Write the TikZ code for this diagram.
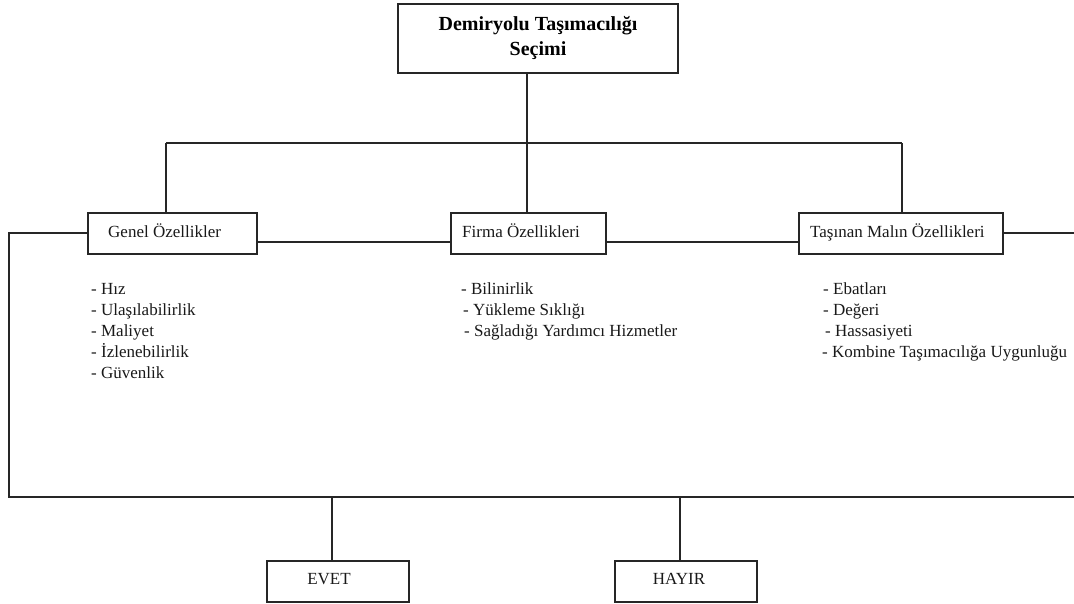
\documentclass[tikz,border=0pt]{standalone}
\usepackage{fontspec}
\setmainfont{Liberation Serif}
\begin{document}
\begin{tikzpicture}[x=1pt,y=-1pt,
  box/.style={draw=black!85,line width=1.15pt,rectangle,inner sep=0pt},
  conn/.style={draw=black!85,line width=1.15pt},
  lbl/.style={anchor=base west,inner sep=0pt,font=\fontsize{17}{21}\selectfont,text=black!90},
]
\useasboundingbox (0,0) rectangle (1074,603);
% boxes
\node[box,minimum width=280pt,minimum height=69pt,align=center,
      font=\fontsize{20}{25}\selectfont\bfseries] (top) at (538,38.5)
      {Demiryolu Taşımacılığı\\Seçimi};
\node[box,minimum width=169pt,minimum height=41pt] (genel) at (172.5,233.5) {};
\node[box,minimum width=155pt,minimum height=41pt] (firma) at (528.5,233.5) {};
\node[box,minimum width=204pt,minimum height=41pt] (tasinan) at (901,233.5) {};
\node[box,minimum width=142pt,minimum height=41pt] (evet) at (338,581.5) {};
\node[box,minimum width=142pt,minimum height=41pt] (hayir) at (686,581.5) {};
% box texts
\node[lbl] (genelt) at (108,237) {Genel Özellikler};
\node[lbl] (firmat) at (462,237) {Firma Özellikleri};
\node[lbl] (tasinant) at (810,237) {Taşınan Malın Özellikleri};
\node[lbl,anchor=base] (evett) at (329,584) {EVET};
\node[lbl,anchor=base] (hayirt) at (679,584) {HAYIR};
% lists
\node[lbl] (g1) at (91,294) {- Hız};
\node[lbl] (g2) at (91,315) {- Ulaşılabilirlik};
\node[lbl] (g3) at (91,336) {- Maliyet};
\node[lbl] (g4) at (91,357) {- İzlenebilirlik};
\node[lbl] (g5) at (91,378) {- Güvenlik};
\node[lbl] (f1) at (461,294) {- Bilinirlik};
\node[lbl] (f2) at (463,315) {- Yükleme Sıklığı};
\node[lbl] (f3) at (464,336) {- Sağladığı Yardımcı Hizmetler};
\node[lbl] (t1) at (823,294) {- Ebatları};
\node[lbl] (t2) at (823,315) {- Değeri};
\node[lbl] (t3) at (825,336) {- Hassasiyeti};
\node[lbl] (t4) at (822,357) {- Kombine Taşımacılığa Uygunluğu};
% junction coordinates
\coordinate (c1) at (166,143);
\coordinate (c2) at (527,143);
\coordinate (c3) at (902,143);
\coordinate (gm) at (0,242);
\coordinate (lt) at (9,233);
\coordinate (lb) at (9,497);
\coordinate (rb) at (1074,497);
\coordinate (rt) at (1074,233);
\coordinate (e1) at (332,497);
\coordinate (h1) at (680,497);
% connectors
\draw[conn] (top.south -| c2) -- (c2);
\draw[conn] (c1) -- (c3);
\draw[conn] (c1) -- (c1 |- genel.north);
\draw[conn] (c2) -- (c2 |- firma.north);
\draw[conn] (c3) -- (c3 |- tasinan.north);
\draw[conn] (genel.east |- gm) -- (firma.west |- gm);
\draw[conn] (firma.east |- gm) -- (tasinan.west |- gm);
\draw[conn] (genel.west |- lt) -- (lt) -- (lb) -- (rb);
\draw[conn] (tasinan.east |- rt) -- (rt);
\draw[conn] (e1) -- (e1 |- evet.north);
\draw[conn] (h1) -- (h1 |- hayir.north);
\end{tikzpicture}
\end{document}
